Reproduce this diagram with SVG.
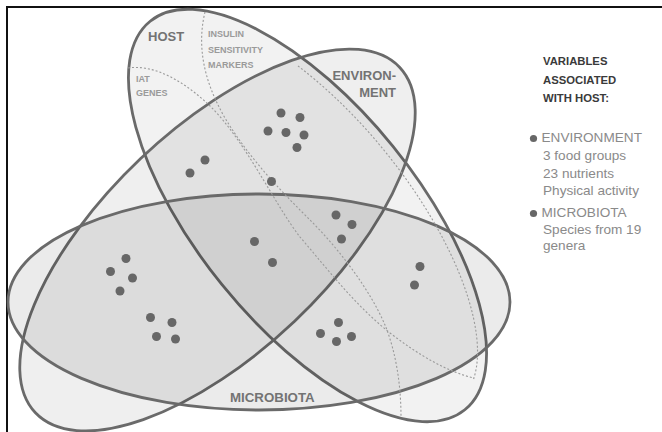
<svg xmlns="http://www.w3.org/2000/svg" width="662" height="432" viewBox="0 0 662 432">
<style>
.set{stroke:#6a6a6a;stroke-width:2.8}
.dot{fill:#676767}
.sub{fill:none;stroke:#9a9a9a;stroke-width:1.1;stroke-dasharray:2 2}
.lab{font-family:"Liberation Sans",Arial,sans-serif;font-weight:bold;fill:#737373}
.small{font-family:"Liberation Sans",Arial,sans-serif;font-weight:bold;fill:#9a9a9a;font-size:9px}
.leg{font-family:"Liberation Sans",Arial,sans-serif;font-size:13.6px;fill:#8a8a8a}
.hdr{font-family:"Liberation Sans",Arial,sans-serif;font-size:11.3px;font-weight:bold;fill:#3a3a3a}
</style>
<rect width="662" height="432" fill="#ffffff"/>
<path d="M7,432 V7 H662" fill="none" stroke="#111" stroke-width="2"/>

<g id="host">
<ellipse class="set" cx="307.5" cy="215.5" rx="250" ry="110" transform="rotate(51 307.5 215.5)" fill="#000" fill-opacity="0.05"/>
</g>
<g id="environment">
<ellipse class="set" cx="217.5" cy="240" rx="251" ry="112" transform="rotate(-43.5 217.5 240)" fill="#000" fill-opacity="0.062"/>
</g>
<g id="microbiota">
<ellipse class="set" cx="259" cy="302" rx="251" ry="108" fill="#000" fill-opacity="0.08"/>
</g>

<g id="host-subsets">
<path class="sub" d="M128,68 C155,64 185,82 210,106 C245,140 275,205 300,237 C330,272 355,305 390,333 C420,356 448,372 474,378"/>
<path class="sub" d="M205,12 C197,45 203,80 225,118 C250,160 285,195 310,220 C340,250 370,290 385,325 C396,352 401,385 401,417"/>
<path class="sub" d="M298,66 A240,100 51 0 1 473.5,379.3"/>
</g>

<g id="labels">
<text class="lab" x="148" y="41" font-size="13">HOST</text>
<text class="small" x="208" y="37">INSULIN</text>
<text class="small" x="208" y="52.5">SENSITIVITY</text>
<text class="small" x="208" y="67.5">MARKERS</text>
<text class="small" x="136" y="82">IAT</text>
<text class="small" x="136" y="96">GENES</text>
<text class="lab" x="396" y="80" font-size="13" text-anchor="end">ENVIRON-</text>
<text class="lab" x="396" y="97" font-size="13" text-anchor="end">MENT</text>
<text class="lab" x="230" y="402" font-size="13.3">MICROBIOTA</text>
</g>

<g id="variables">
<circle class="dot" cx="281" cy="113" r="4.5"/>
<circle class="dot" cx="300" cy="117.5" r="4.5"/>
<circle class="dot" cx="268" cy="131" r="4.5"/>
<circle class="dot" cx="286" cy="132.5" r="4.5"/>
<circle class="dot" cx="304" cy="135" r="4.5"/>
<circle class="dot" cx="297" cy="147.5" r="4.5"/>
<circle class="dot" cx="205" cy="160" r="4.5"/>
<circle class="dot" cx="190" cy="173" r="4.5"/>
<circle class="dot" cx="271.5" cy="181.5" r="4.5"/>
<circle class="dot" cx="336" cy="215" r="4.5"/>
<circle class="dot" cx="352" cy="224.5" r="4.5"/>
<circle class="dot" cx="341.5" cy="239" r="4.5"/>
<circle class="dot" cx="254.5" cy="241.5" r="4.5"/>
<circle class="dot" cx="272.5" cy="262.5" r="4.5"/>
<circle class="dot" cx="126" cy="258.5" r="4.5"/>
<circle class="dot" cx="110.5" cy="271.5" r="4.5"/>
<circle class="dot" cx="132.5" cy="278" r="4.5"/>
<circle class="dot" cx="120" cy="291" r="4.5"/>
<circle class="dot" cx="150.5" cy="317.5" r="4.5"/>
<circle class="dot" cx="172" cy="322.5" r="4.5"/>
<circle class="dot" cx="156.5" cy="336.5" r="4.5"/>
<circle class="dot" cx="175.5" cy="339" r="4.5"/>
<circle class="dot" cx="338.5" cy="322.5" r="4.5"/>
<circle class="dot" cx="320.5" cy="333.5" r="4.5"/>
<circle class="dot" cx="351.5" cy="336.5" r="4.5"/>
<circle class="dot" cx="336.5" cy="341.5" r="4.5"/>
<circle class="dot" cx="420" cy="266.5" r="4.5"/>
<circle class="dot" cx="414.5" cy="285" r="4.5"/>
</g>

<g id="legend">
<text class="hdr" x="543" y="65">VARIABLES</text>
<text class="hdr" x="543" y="83.5">ASSOCIATED</text>
<text class="hdr" x="543" y="102">WITH HOST:</text>
<circle class="dot" cx="533.5" cy="138.5" r="3.6"/>
<text class="leg" x="541.5" y="142">ENVIRONMENT</text>
<text class="leg" x="543" y="160">3 food groups</text>
<text class="leg" x="543" y="177.5">23 nutrients</text>
<text class="leg" x="543" y="194.5">Physical activity</text>
<circle class="dot" cx="533.5" cy="213.5" r="3.6"/>
<text class="leg" x="541.5" y="217">MICROBIOTA</text>
<text class="leg" x="543" y="233.5">Species from 19</text>
<text class="leg" x="543" y="250">genera</text>
</g>
</svg>
